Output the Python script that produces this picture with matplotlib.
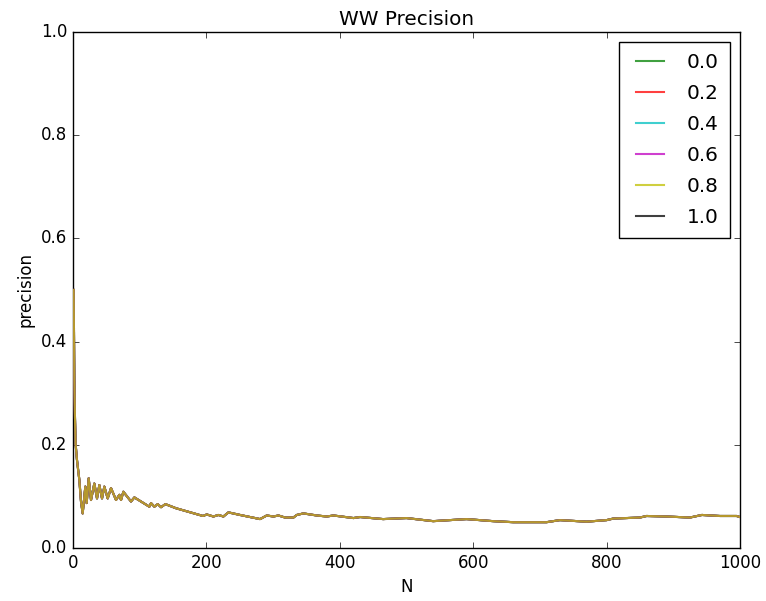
import matplotlib
matplotlib.use('Agg')
import matplotlib.pyplot as plt

plt.style.use('classic')

# precision vs N (all thresholds give the same curve)
n = [1, 2, 3, 4, 6, 9.5, 12, 14.5, 18.5, 20.5, 23.5, 27, 32, 36, 39.5, 43.5, 47, 52, 57,
     64.5, 69.5, 72, 75.5, 87, 92, 114.5, 117, 122, 127, 132, 138.5, 154.5, 195, 200.5,
     210.5, 218, 225.5, 233, 250.5, 280.5, 290.5, 300.5, 308, 318, 330.5, 335.5, 345.5,
     365.5, 380.5, 390.5, 420.5, 430.5, 465, 500, 540, 590, 630, 660, 710, 730, 770, 800,
     810, 850, 860, 890, 925, 943, 970, 995, 1000]
prec = [0.5, 0.33, 0.25, 0.2, 0.17, 0.132, 0.09, 0.067, 0.119, 0.087, 0.135, 0.093, 0.125,
        0.096, 0.122, 0.096, 0.119, 0.096, 0.116, 0.093, 0.103, 0.093, 0.109, 0.090, 0.098,
        0.080, 0.087, 0.080, 0.085, 0.079, 0.085, 0.077, 0.062, 0.065, 0.061, 0.064, 0.061,
        0.069, 0.064, 0.056, 0.063, 0.061, 0.063, 0.059, 0.059, 0.064, 0.067, 0.063, 0.061,
        0.063, 0.058, 0.060, 0.056, 0.058, 0.052, 0.056, 0.052, 0.050, 0.050, 0.054, 0.051,
        0.054, 0.057, 0.059, 0.062, 0.061, 0.059, 0.064, 0.062, 0.062, 0.060]

labels = ['0.0', '0.2', '0.4', '0.6', '0.8', '1.0']
colors = ['g', 'r', 'c', 'm', 'y', 'k']

fig = plt.figure(figsize=(7.66, 6.01), dpi=100)
ax = fig.add_axes([0.0953, 0.0882, 0.8707, 0.8588])

for i, (lab, c) in enumerate(zip(labels, colors)):
    z = 1 if lab == '1.0' else 2 + i
    ax.plot(n, prec, color=c, alpha=0.75, lw=1.5, label=lab, zorder=z)

ax.set_xlim(0, 1000)
ax.set_ylim(0, 1.0)
ax.set_xlabel('N')
ax.set_ylabel('precision')
ax.set_title('WW Precision')
ax.legend(loc='upper right', labelspacing=0.6, borderpad=0.55, handletextpad=0.85)

fig.savefig('out.png', dpi=100)
